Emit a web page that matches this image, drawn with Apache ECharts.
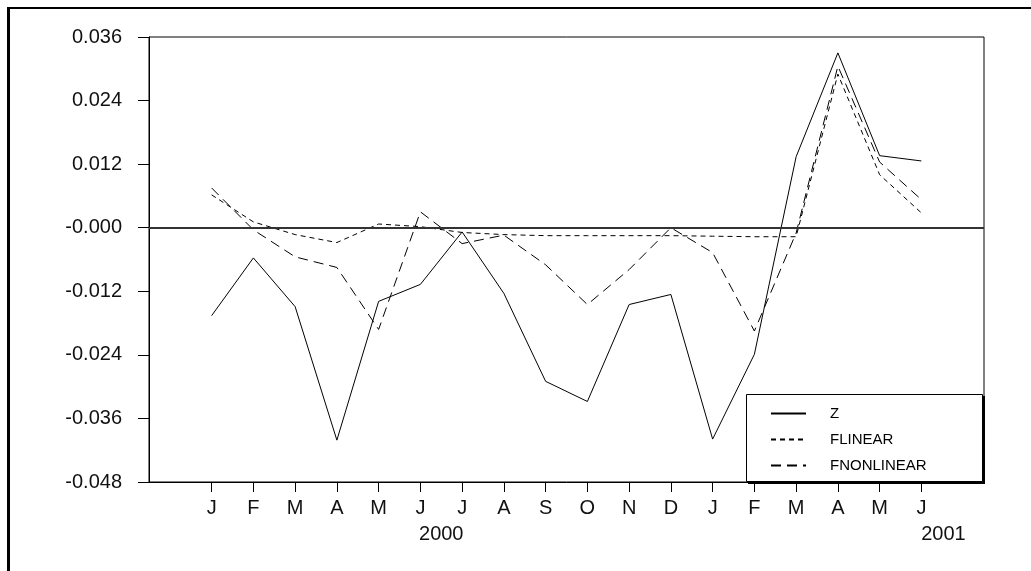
<!DOCTYPE html>
<html>
<head>
<meta charset="utf-8">
<script src="https://cdn.jsdelivr.net/npm/echarts@6/dist/echarts.min.js"></script>
<style>
html,body{margin:0;padding:0;background:#fff;}
#chart{width:1031px;height:571px;}
</style>
</head>
<body>
<div id="chart"></div>
<script>
// ---- data ----
var months = ['J','F','M','A','M','J','J','A','S','O','N','D','J','F','M','A','M','J'];
var years = ['2000', '2001'];
var zValues = [-0.0166,-0.0057,-0.0149,-0.0401,-0.0139,-0.0107,-0.0008,-0.0124,-0.0290,-0.0328,-0.0145,-0.0126,-0.0399,-0.0239,0.0134,0.0330,0.0136,0.0126];
var flinear = [0.0062,0.0011,-0.0013,-0.0028,0.0007,0.0002,-0.0009,-0.0013,-0.0015,-0.0015,-0.0015,-0.0015,-0.0016,-0.0017,-0.0017,0.0290,0.0100,0.0028];
var fnonlinear = [0.0075,-0.0004,-0.0055,-0.0075,-0.0192,0.0030,-0.0030,-0.0014,-0.0070,-0.0145,-0.0079,0.0000,-0.0047,-0.0195,-0.0010,0.0305,0.0124,0.0053];
var yTicks = { min: -0.048, max: 0.036, step: 0.012 };

function pairs(a){ return a.map(function(v, i){ return [i, v]; }); }
var monthIdx = months.map(function(m, i){ return i; });
// year label anchors: 2000 centred on its mid-year, 2001 starting at its last shown month
var yearPos = [5.5, months.length - 1];

var chart = echarts.init(document.getElementById('chart'));
var FONT = 'Liberation Sans, Arial, sans-serif';
chart.setOption({
  animation: false,
  backgroundColor: '#fff',
  textStyle: { fontFamily: FONT },
  graphic: [
    { type: 'line', shape: { x1: 8.5, y1: 7, x2: 8.5, y2: 571 }, style: { stroke: '#000', lineWidth: 3 } },
    { type: 'line', shape: { x1: 7, y1: 8, x2: 1031, y2: 8 }, style: { stroke: '#000', lineWidth: 2 } },
    // legend frame with drop edge
    { type: 'rect', z: 3, shape: { x: 748, y: 396, width: 237, height: 88 }, style: { fill: '#000' } },
    { type: 'rect', z: 4, shape: { x: 746.5, y: 394.5, width: 236, height: 87 }, style: { fill: '#fff', stroke: '#000', lineWidth: 1 } }
  ],
  grid: {
    left: 149, top: 37, right: 47, bottom: 89,
    show: true, borderColor: '#000', borderWidth: 1, backgroundColor: 'transparent'
  },
  legend: {
    orient: 'vertical', left: 746, top: 394, z: 6,
    itemWidth: 35, itemHeight: 14, itemGap: 11,
    padding: [12, 57, 12, 24],
    itemStyle: { opacity: 0 },
    textStyle: { fontSize: 15, color: '#000', fontFamily: FONT, padding: [0,0,0,19] },
    data: ['Z','FLINEAR','FNONLINEAR']
  },
  xAxis: [
    {
      type: 'value', min: -1.5, max: 18.5,
      axisLine: { show: true, onZero: false, lineStyle: { color: '#000', width: 1 } },
      axisTick: { show: true, customValues: monthIdx, length: 10, lineStyle: { color: '#000' } },
      axisLabel: {
        customValues: monthIdx, showMaxLabel: true, showMinLabel: true, hideOverlap: false,
        margin: 15, color: '#111', fontFamily: FONT, fontSize: 20, lineHeight: 22,
        formatter: function(v){ return months[Math.round(v)]; }
      },
      splitLine: { show: false }
    },
    {
      type: 'value', min: -1.5, max: 18.5, position: 'bottom',
      axisLine: { show: false, onZero: false },
      axisTick: { show: false },
      axisLabel: {
        customValues: yearPos, showMaxLabel: true, showMinLabel: true,
        margin: 41, color: '#111', fontFamily: FONT,
        formatter: function(v){
          var k = yearPos.indexOf(v);
          return k === 0 ? '{c|' + years[0] + '}' : '{l|' + years[1] + '}';
        },
        rich: {
          c: { fontSize: 20, lineHeight: 22, fontFamily: FONT, color: '#111' },
          l: { fontSize: 20, lineHeight: 22, fontFamily: FONT, color: '#111', padding: [0,0,0,44] }
        }
      },
      splitLine: { show: false }
    }
  ],
  yAxis: {
    type: 'value', min: yTicks.min, max: yTicks.max, interval: yTicks.step,
    axisLine: { show: true, onZero: false, lineStyle: { color: '#000', width: 1 } },
    axisTick: { show: true, inside: false, length: 11, lineStyle: { color: '#000' } },
    axisLabel: {
      fontSize: 20, color: '#111', margin: 27, fontFamily: FONT,
      formatter: function(v){ return Math.abs(v) < 1e-9 ? '-0.000' : v.toFixed(3); }
    },
    splitLine: { show: false }
  },
  series: [
    {
      name: 'Z', type: 'line', data: pairs(zValues), symbol: 'none',
      lineStyle: { color: '#000', width: 1, type: 'solid' }, itemStyle: { color: '#000' },
      markLine: {
        silent: true, symbol: ['none','none'], label: { show: false },
        lineStyle: { color: '#333', width: 2, type: 'solid' },
        data: [{ yAxis: 0 }]
      }
    },
    {
      name: 'FLINEAR', type: 'line', data: pairs(flinear), symbol: 'none',
      lineStyle: { color: '#000', width: 1, type: [5,4] }, itemStyle: { color: '#000' }
    },
    {
      name: 'FNONLINEAR', type: 'line', data: pairs(fnonlinear), symbol: 'none',
      lineStyle: { color: '#000', width: 1, type: [10,6] }, itemStyle: { color: '#000' }
    }
  ]
});
</script>
</body>
</html>
